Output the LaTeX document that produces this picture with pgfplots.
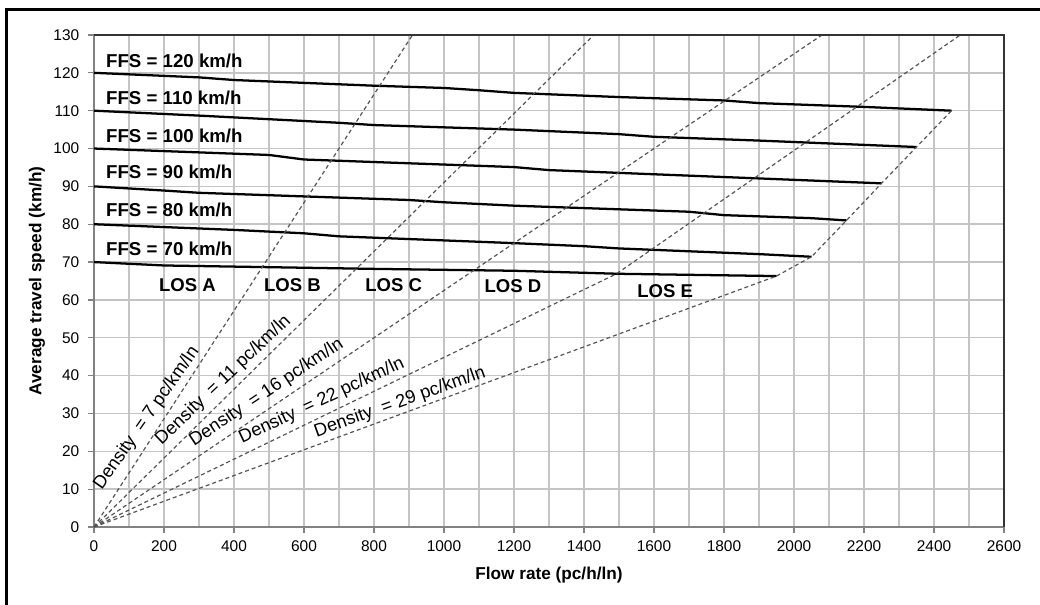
\documentclass[border=0pt]{standalone}
\usepackage{fontspec}
\setmainfont{Liberation Sans}
\usepackage{pgfplots}
\pgfplotsset{compat=1.18}

\definecolor{gridgray}{RGB}{196,196,196}
\definecolor{dashgray}{RGB}{85,85,85}
\definecolor{axisgray}{RGB}{130,130,130}

\begin{document}
\begin{tikzpicture}
\path[use as bounding box] (0,0) rectangle (780pt,453.75pt);
% outer frame (left and top edges)
\draw[line width=2.6pt] (5pt,-5pt) -- (5pt,446.6pt) -- (790pt,446.6pt);

\begin{axis}[
  at={(70.5pt,58.5pt)}, anchor=south west,
  scale only axis, width=682.5pt, height=369pt,
  xmin=0, xmax=2600, ymin=0, ymax=130,
  xtick={0,200,...,2600}, ytick={0,10,...,130},
  minor x tick num=1,
  grid=both,
  major grid style={color=gridgray, line width=1.1pt},
  minor grid style={color=gridgray, line width=1.1pt},
  tick align=outside,
  xtick pos=left, ytick pos=left,
  major tick length=4.5pt, minor tick length=0pt,
  tick style={color=axisgray, line width=0.9pt},
  axis line style={draw=axisgray, line width=1pt},
  /pgf/number format/assume math mode=true,
  /pgf/number format/set thousands separator={},
  ticklabel style={font=\fontsize{11.6}{13}\selectfont, text=black},
  yticklabel style={xshift=-3pt},
  xticklabel style={yshift=-2pt},
  clip=false,
]
% speed-flow curves for each free-flow speed
\addplot[black, line width=1.7pt] coordinates {(0,120) (300,118.8) (400,118.1) (800,116.6) (1000,116.0) (1100,115.4) (1200,114.7) (1500,113.6) (1800,112.7) (1900,112.0) (2200,111.0) (2450,110.0)};
\addplot[black, line width=1.7pt] coordinates {(0,110) (300,108.7) (700,106.8) (800,106.2) (1200,105.0) (1500,103.8) (1600,103.1) (1900,102.1) (2350,100.4)};
\addplot[black, line width=1.7pt] coordinates {(0,100) (500,98.3) (600,97.1) (1200,95.1) (1300,94.3) (1900,92.1) (2250,90.8)};
\addplot[black, line width=1.7pt] coordinates {(0,90) (200,88.9) (300,88.3) (900,86.4) (1000,85.8) (1200,84.9) (1700,83.3) (1800,82.4) (2050,81.6) (2150,81.0)};
\addplot[black, line width=1.7pt] coordinates {(0,80) (400,78.5) (600,77.6) (700,76.8) (1200,75.0) (1400,74.2) (1500,73.6) (1900,72.1) (2050,71.4)};
\addplot[black, line width=1.7pt] coordinates {(0,70) (200,69.1) (400,68.8) (800,68.2) (1200,67.7) (1500,66.9) (1950,66.3)};

% density boundaries between LOS regions
\addplot[dashgray, line width=0.9pt, dash pattern=on 3pt off 2.25pt] coordinates {(0,0) (910,130)};
\addplot[dashgray, line width=0.9pt, dash pattern=on 3pt off 2.25pt] coordinates {(0,0) (1428,130)};
\addplot[dashgray, line width=0.9pt, dash pattern=on 3pt off 2.25pt] coordinates {(0,0) (2080,130)};
\addplot[dashgray, line width=0.9pt, dash pattern=on 3pt off 2.25pt] coordinates {(0,0) (1493,66.9) (2475,130)};
\addplot[dashgray, line width=0.9pt, dash pattern=on 3pt off 2.25pt] coordinates {(0,0) (1950,66.3)};
% capacity boundary
\addplot[dashgray, line width=0.9pt, dash pattern=on 3pt off 2.25pt] coordinates {(1950,66.3) (2050,71.4) (2150,81.0) (2250,90.8) (2350,100.4) (2450,110.0)};

% top and right border of the plot area
\draw[black!80, line width=1pt] (rel axis cs:0,1) -- (rel axis cs:1,1) -- (rel axis cs:1,0);

% curve labels
\begin{scope}[every node/.style={inner sep=0pt, anchor=west, font=\bfseries\fontsize{14}{15}\selectfont}]
\node at (axis cs:34,123.2) {FFS = 120 km/h};
\node at (axis cs:34,113.5) {FFS = 110 km/h};
\node at (axis cs:34,103.35) {FFS = 100 km/h};
\node at (axis cs:34,93.9) {FFS = 90 km/h};
\node at (axis cs:34,83.7) {FFS = 80 km/h};
\node at (axis cs:34,73.4) {FFS = 70 km/h};
\end{scope}

% level-of-service labels
\begin{scope}[every node/.style={inner sep=0pt, anchor=center, font=\bfseries\fontsize{13.9}{15}\selectfont}]
\node at (axis cs:267,63.8) {LOS A};
\node at (axis cs:567,63.8) {LOS B};
\node at (axis cs:856,63.8) {LOS C};
\node at (axis cs:1197,63.6) {LOS D};
\node at (axis cs:1632,62.2) {LOS E};
\end{scope}

% density labels
\begin{scope}[every node/.style={inner sep=0pt, anchor=center, font=\fontsize{13.7}{15}\selectfont}]
\node[rotate=55] at (axis cs:150.6,28.7) {Density\ \ = 7 pc/km/ln};
\node[rotate=43.5] at (axis cs:369.5,38.8) {Density\ \ = 11 pc/km/ln};
\node[rotate=33.5] at (axis cs:493,35.5) {Density\ \ = 16 pc/km/ln};
\node[rotate=25.2] at (axis cs:650.5,33.3) {Density\ \ = 22 pc/km/ln};
\node[rotate=19.6] at (axis cs:874,32.9) {Density\ \ = 29 pc/km/ln};
\end{scope}
\end{axis}

% axis titles
\node[font=\bfseries\fontsize{12.9}{15}\selectfont] at (411.75pt,22.5pt) {Flow rate (pc/h/ln)};
\node[rotate=90, font=\bfseries\fontsize{12.9}{15}\selectfont] at (27.75pt,243pt) {Average travel speed (km/h)};
\end{tikzpicture}
\end{document}
